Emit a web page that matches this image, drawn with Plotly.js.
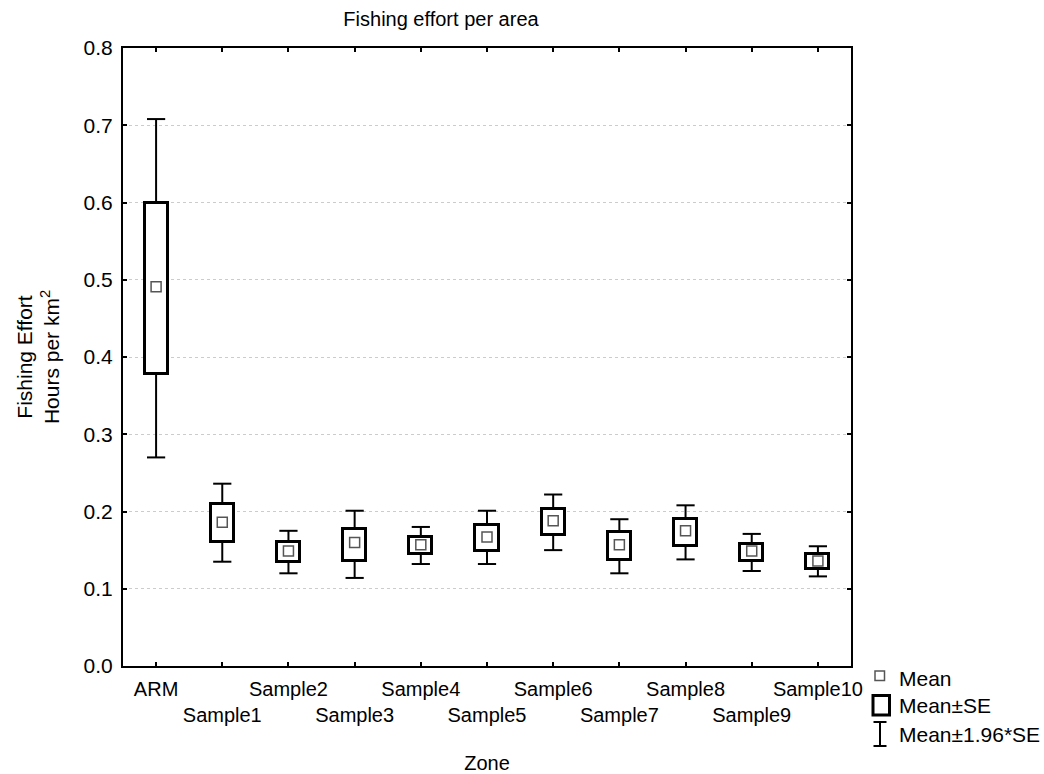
<!DOCTYPE html>
<html>
<head>
<meta charset="utf-8">
<script src="https://cdn.plot.ly/plotly-3.0.1.min.js"></script>
<style>html,body{margin:0;padding:0;background:#fff;}#chart{width:1044px;height:774px;}</style>
</head>
<body>
<div id="chart"></div>
<script>
// ---- data ----
const categories = ['ARM','Sample1','Sample2','Sample3','Sample4','Sample5','Sample6','Sample7','Sample8','Sample9','Sample10'];
const means  = [0.491, 0.186, 0.149, 0.160, 0.157, 0.167, 0.188, 0.157, 0.175, 0.149, 0.136];
const seLow  = [0.378, 0.160, 0.135, 0.136, 0.145, 0.149, 0.169, 0.137, 0.155, 0.136, 0.126];
const seHigh = [0.600, 0.210, 0.161, 0.178, 0.167, 0.183, 0.203, 0.173, 0.190, 0.158, 0.145];
const ciLow  = [0.270, 0.135, 0.120, 0.114, 0.132, 0.132, 0.150, 0.120, 0.138, 0.123, 0.116];
const ciHigh = [0.708, 0.236, 0.175, 0.201, 0.180, 0.201, 0.222, 0.190, 0.208, 0.171, 0.155];
const legendLabels = ['Mean', 'Mean±SE', 'Mean±1.96*SE'];

const FONT = 'Liberation Sans, Arial, sans-serif';

// tick labels alternate between two rows
const tickText = categories.map((c, i) => i % 2 === 0 ? c : '&nbsp;<br>' + c);

// whisker segments
const wx = [], wy = [];
categories.forEach((c, i) => {
  wx.push(c, c, null, c, c, null);
  wy.push(seHigh[i], ciHigh[i], null, seLow[i], ciLow[i], null);
});
const capX = categories.concat(categories);
const capY = ciHigh.concat(ciLow);

const traces = [
  {
    type: 'bar', x: categories, y: seHigh.map((v, i) => v - seLow[i]), base: seLow,
    width: 0.35, marker: {color: '#ffffff', line: {color: '#000000', width: 3}},
    showlegend: false, hoverinfo: 'skip'
  },
  {
    type: 'scatter', mode: 'lines', x: wx, y: wy,
    line: {color: '#000000', width: 2}, showlegend: false, hoverinfo: 'skip'
  },
  {
    type: 'scatter', mode: 'markers', x: capX, y: capY,
    marker: {symbol: 'line-ew', size: 13, line: {color: '#000000', width: 2}},
    showlegend: false, hoverinfo: 'skip'
  },
  {
    type: 'scatter', mode: 'markers', x: categories, y: means,
    marker: {symbol: 'square-open', size: 10, color: '#555555', line: {width: 1.5, color: '#555555'}},
    showlegend: false
  }
];

// legend (drawn manually, positions in pixels converted to paper coords)
const L = 123, R = 851, T = 48, B = 666;
const px = p => (p - L) / (R - L);
const py = p => (B - p) / (B - T);
const shapes = [
  {type: 'rect', xref: 'paper', yref: 'paper', x0: px(875), x1: px(884.5), y0: py(680.5), y1: py(671), line: {color: '#555555', width: 1.5}},
  {type: 'rect', xref: 'paper', yref: 'paper', x0: px(873), x1: px(889.5), y0: py(715), y1: py(695.5), line: {color: '#000000', width: 3}},
  {type: 'line', xref: 'paper', yref: 'paper', x0: px(880), x1: px(880), y0: py(746), y1: py(722), line: {color: '#000000', width: 2}},
  {type: 'line', xref: 'paper', yref: 'paper', x0: px(873.5), x1: px(886.5), y0: py(722), y1: py(722), line: {color: '#000000', width: 2}},
  {type: 'line', xref: 'paper', yref: 'paper', x0: px(873.5), x1: px(886.5), y0: py(746), y1: py(746), line: {color: '#000000', width: 2}}
];
const legendY = [678, 705, 734];
const annotations = legendLabels.map((t, i) => ({
  text: t, xref: 'paper', yref: 'paper', x: px(897), y: py(legendY[i]),
  xanchor: 'left', yanchor: 'middle', showarrow: false,
  font: {family: FONT, size: 21, color: '#000'}
}));

const layout = {
  width: 1044, height: 774,
  margin: {l: L, r: 1044 - R, t: T, b: 774 - B, pad: 0},
  paper_bgcolor: '#ffffff', plot_bgcolor: '#ffffff',
  font: {family: FONT, size: 20, color: '#000000'},
  showlegend: false,
  title: {text: 'Fishing effort per area', font: {family: FONT, size: 20, color: '#000'},
          xref: 'container', yref: 'container', x: 441 / 1044, xanchor: 'center', y: 1 - 19 / 774, yanchor: 'middle'},
  xaxis: {
    type: 'category', range: [-0.5, 10.5],
    tickvals: categories, ticktext: tickText, tickangle: 0,
    showline: true, linecolor: '#000', linewidth: 2, mirror: 'ticks',
    ticks: 'inside', ticklen: 4, tickwidth: 2, tickcolor: '#000',
    showgrid: false, zeroline: false, ticklabelstandoff: 4,
    tickfont: {family: FONT, size: 20, color: '#000'},
    title: {text: 'Zone', font: {family: FONT, size: 20, color: '#000'}, standoff: 32}
  },
  yaxis: {
    range: [0, 0.8], dtick: 0.1, tick0: 0, tickformat: '.1f',
    showline: true, linecolor: '#000', linewidth: 2, mirror: 'ticks',
    ticks: 'inside', ticklen: 4, tickwidth: 2, tickcolor: '#000',
    showgrid: true, gridcolor: '#cccccc', griddash: 'dot', gridwidth: 1, zeroline: false,
    ticklabelstandoff: 4,
    tickfont: {family: FONT, size: 21, color: '#000'},
    title: {text: 'Fishing Effort<br>Hours per km<sup>2</sup>', font: {family: FONT, size: 21, color: '#000'}, standoff: 18}
  },
  shapes: shapes,
  annotations: annotations,
  bargap: 0
};

Plotly.newPlot('chart', traces, layout, {displayModeBar: false, responsive: false});
</script>
</body>
</html>
